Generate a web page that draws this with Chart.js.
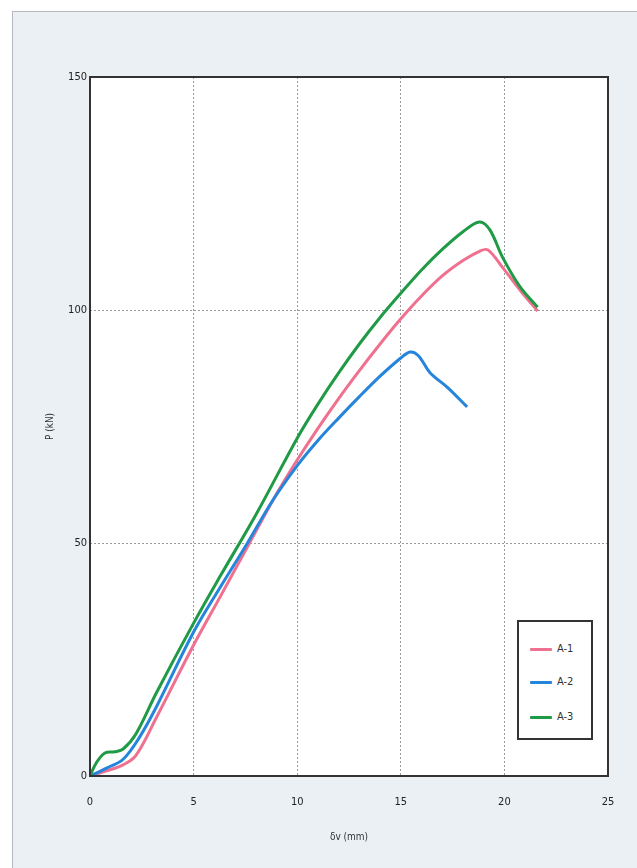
<!DOCTYPE html>
<html>
<head>
<meta charset="utf-8">
<script src="https://cdn.jsdelivr.net/npm/chart.js@4.4.1/dist/chart.umd.min.js"></script>
<style>
    body { margin:0; background:#fff; width:637px; height:868px; overflow:hidden; position:relative; }
    .panel { position:absolute; left:12px; top:11px; width:700px; height:900px; border:1px solid #b5b9bd; background:#ebf0f5; }
    #myChart { position:absolute; left:0; top:0; }
    .legendBox { position:absolute; left:517px; top:620px; width:72px; height:116px; border:2px solid #333; background:#fff;
        font-family:"DejaVu Sans Condensed","DejaVu Sans",sans-serif; font-size:11px; color:#333; }
    .legendItem { position:absolute; left:11px; height:14px; line-height:14px; }
    .legendItem span.swatch { display:inline-block; width:22px; height:3px; vertical-align:middle; margin-right:5px; border-radius:1px; }
</style>
</head>
<body>
<div class="panel"></div>
<canvas id="myChart" width="637" height="868"></canvas>
<div class="legendBox" id="legend"></div>

<script>
    // data (x = δv mm, y = P kN)
    const seriesNames = ['A-1', 'A-2', 'A-3'];
    const seriesColors = ['#f0708f', '#2585dc', '#1f9a45'];

    const a1 = [[0,0],[0.8,1.1],[1.6,2.4],[2.2,4.3],[3.2,12.5],[5,28.1],[6.3,38.6],[7.7,50],[9,60.5],[10,67.8],[11,74.6],[12,81],
        [13,87],[14,92.7],[15,98.1],[16,103],[17,107.3],[18,110.6],[18.8,112.6],[19.2,112.9],[19.9,109.2],[20.75,104.3],[21.6,99.8]];
    const a2 = [[0,0],[0.8,1.7],[1.6,3.6],[2.4,8.4],[3.2,14.8],[5,30.9],[6.3,40.6],[7.6,50],[8.8,59],[10,66.6],[11,72],[12,76.8],
        [13,81.4],[14,85.8],[15,89.7],[15.45,91],[15.85,90.2],[16.4,86.6],[17.3,83.2],[18.2,79.2]];
    const a3 = [[0,0],[0.3,2.8],[0.7,4.9],[1.2,5.2],[1.6,5.8],[2.2,8.9],[3.2,17.8],[5,32.8],[6.3,43],[8,56],
        [10,72.5],[11,79.8],[12,86.5],[13,92.7],[14,98.4],[15,103.6],[16,108.6],[17,113],[18,116.8],[18.8,118.9],
        [19.3,117.2],[19.9,111.4],[20.75,105],[21.6,100.6]];
    const allSeries = [a1, a2, a3];

    const xTicks = [0, 5, 10, 15, 20, 25];
    const yTicks = [0, 50, 100, 150];

    const tickFont = { family: '"DejaVu Sans Condensed","DejaVu Sans",sans-serif', size: 11 };

    // white plot area + frame
    const plotFrame = {
        id: 'plotFrame',
        beforeDraw(chart) {
            const a = chart.chartArea, ctx = chart.ctx;
            ctx.save();
            ctx.fillStyle = '#fff';
            ctx.fillRect(a.left, a.top, a.right - a.left, a.bottom - a.top);
            ctx.restore();
        },
        afterDraw(chart) {
            const a = chart.chartArea, ctx = chart.ctx;
            ctx.save();
            ctx.strokeStyle = '#333';
            ctx.lineWidth = 2;
            ctx.strokeRect(a.left, a.top, a.right - a.left, a.bottom - a.top);
            ctx.restore();
        }
    };

    const data = {
        datasets: allSeries.map((s, i) => ({
            label: seriesNames[i],
            data: s.map(p => ({ x: p[0], y: p[1] })),
            borderColor: seriesColors[i],
            backgroundColor: seriesColors[i],
            borderWidth: 3,
            pointRadius: 0,
            showLine: true,
            tension: 0.35,
            order: 3 - i
        }))
    };

    const config = {
        type: 'scatter',
        data,
        plugins: [plotFrame],
        options: {
            responsive: false,
            animation: false,
            layout: { padding: { left: 40, top: 77, right: 29, bottom: 24 } },
            plugins: { legend: { display: false }, tooltip: { enabled: false } },
            scales: {
                x: {
                    type: 'linear', min: 0, max: 25,
                    afterBuildTicks: s => { s.ticks = xTicks.map(v => ({ value: v })); },
                    afterFit: s => { s.height = 68; },
                    grid: { color: '#9a9a9a', drawTicks: false },
                    border: { display: false, dash: [2, 2] },
                    ticks: { color: '#222', font: tickFont, padding: 20, maxRotation: 0 },
                    title: { display: true, text: 'δv (mm)', color: '#333', font: { family: tickFont.family, size: 10 }, padding: { top: 0, bottom: 1 } }
                },
                y: {
                    type: 'linear', min: 0, max: 150,
                    afterBuildTicks: s => { s.ticks = yTicks.map(v => ({ value: v })); },
                    afterFit: s => { s.width = 50; },
                    grid: { color: '#9a9a9a', drawTicks: false },
                    border: { display: false, dash: [2, 2] },
                    ticks: { color: '#222', font: tickFont, padding: 3 },
                    title: { display: true, text: 'P (kN)', color: '#333', font: { family: tickFont.family, size: 10 }, padding: { top: 4, bottom: 0 } }
                }
            }
        }
    };

    const myChart = new Chart(document.getElementById('myChart'), config);

    // legend box
    const legendTops = [20, 53, 88];
    const legend = document.getElementById('legend');
    seriesNames.forEach((name, i) => {
        const item = document.createElement('div');
        item.className = 'legendItem';
        item.style.top = legendTops[i] + 'px';
        item.innerHTML = '<span class="swatch" style="background:' + seriesColors[i] + '"></span>' + name;
        legend.appendChild(item);
    });
</script>
</body>
</html>
